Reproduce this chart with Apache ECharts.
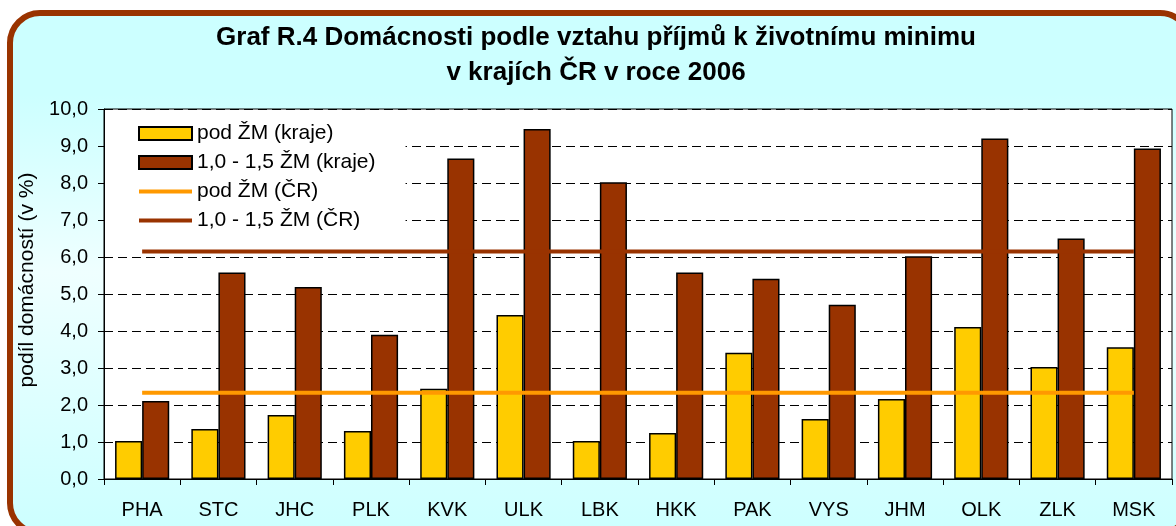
<!DOCTYPE html>
<html>
<head>
<meta charset="utf-8">
<script src="https://cdn.jsdelivr.net/npm/echarts@6/dist/echarts.min.js"></script>
<style>
  html, body { margin: 0; padding: 0; background: #fff; }
  #chart { width: 1176px; height: 526px; }
</style>
</head>
<body>
<div id="chart"></div>
<script>
// kraje
const categories = ['PHA', 'STC', 'JHC', 'PLK', 'KVK', 'ULK', 'LBK', 'HKK', 'PAK', 'VYS', 'JHM', 'OLK', 'ZLK', 'MSK']
// pod ZM (kraje)
const podZmKraje = [1.03, 1.35, 1.73, 1.30, 2.44, 4.43, 1.03, 1.24, 3.41, 1.62, 2.16, 4.11, 3.03, 3.56]
// 1,0 - 1,5 ZM (kraje)
const zm15Kraje = [2.11, 5.58, 5.19, 3.90, 8.66, 9.46, 8.02, 5.58, 5.41, 4.71, 6.02, 9.20, 6.50, 8.93]
// celostatni hodnoty
const podZmCR = 2.33
const zm15CR = 6.15
const seriesNames = ['pod ŽM (kraje)', '1,0 - 1,5 ŽM (kraje)', 'pod ŽM (ČR)', '1,0 - 1,5 ŽM (ČR)']

const font = "'Liberation Sans', Arial, sans-serif"
const chart = echarts.init(document.getElementById('chart'))

let option = {
  animation: false,
  backgroundColor: '#fff',
  textStyle: { fontFamily: font },
  graphic: [
    {
      type: 'rect',
      z: -10,
      silent: true,
      shape: { x: 10, y: 13, width: 1180, height: 520, r: 30 },
      style: {
        fill: new echarts.graphic.LinearGradient(0, 0, 0, 1, [
          { offset: 0, color: '#ccffff' },
          { offset: 0.16, color: '#ccffff' },
          { offset: 0.5, color: '#efffff' },
          { offset: 0.85, color: '#d6ffff' },
          { offset: 1, color: '#ccffff' }
        ]),
        stroke: '#993300',
        lineWidth: 6
      }
    }
  ],
  title: {
    text: 'Graf R.4 Domácnosti podle vztahu příjmů k životnímu minimu\nv krajích ČR v roce 2006',
    left: 591,
    top: 15,
    textAlign: 'center',
    textStyle: {
      fontFamily: font,
      fontSize: 26,
      fontWeight: 'bold',
      color: '#000',
      lineHeight: 35
    }
  },
  legend: {
    orient: 'vertical',
    left: 105,
    top: 110,
    padding: [13, 30, 12, 32],
    backgroundColor: '#fff',
    itemWidth: 53,
    itemHeight: 13,
    itemGap: 8,
    textStyle: { fontFamily: font, fontSize: 21, color: '#000' },
    data: [
      { name: seriesNames[0], icon: 'rect' },
      { name: seriesNames[1], icon: 'rect' },
      { name: seriesNames[2], itemStyle: { opacity: 0 }, lineStyle: { width: 4 } },
      { name: seriesNames[3], itemStyle: { opacity: 0 }, lineStyle: { width: 4 } }
    ]
  },
  grid: {
    left: 104,
    right: 4,
    top: 109,
    bottom: 47,
    show: true,
    backgroundColor: '#fff',
    borderColor: '#000',
    borderWidth: 1
  },
  xAxis: {
    type: 'category',
    data: categories,
    axisLine: { lineStyle: { color: '#000', width: 1 } },
    axisTick: { show: true, length: 6, lineStyle: { color: '#000' } },
    axisLabel: { color: '#000', fontSize: 20, margin: 21, fontFamily: font }
  },
  yAxis: {
    type: 'value',
    min: 0,
    max: 10,
    interval: 1,
    name: 'podíl domácností (v %)',
    nameLocation: 'middle',
    nameGap: 60,
    nameTextStyle: { color: '#000', fontSize: 21, fontFamily: font, padding: [0, 0, 0, 28] },
    axisLine: { show: true, lineStyle: { color: '#000', width: 1 } },
    axisTick: { show: true, length: 6, lineStyle: { color: '#000' } },
    axisLabel: {
      color: '#000',
      fontSize: 20,
      margin: 16,
      fontFamily: font,
      formatter: v => v.toFixed(1).replace('.', ',')
    },
    splitLine: { lineStyle: { color: '#000', type: [9, 5], width: 1 } }
  },
  series: [
    {
      name: seriesNames[0],
      type: 'bar',
      data: podZmKraje,
      barGap: '0%',
      barCategoryGap: '29%',
      itemStyle: { color: '#ffcc00', borderColor: '#000', borderWidth: 1.5 }
    },
    {
      name: seriesNames[1],
      type: 'bar',
      data: zm15Kraje,
      barGap: '0%',
      barCategoryGap: '29%',
      itemStyle: { color: '#993300', borderColor: '#000', borderWidth: 1.5 }
    },
    {
      name: seriesNames[2],
      type: 'line',
      data: categories.map(() => podZmCR),
      symbol: 'none',
      z: 5,
      lineStyle: { color: '#ff9900', width: 4 },
      itemStyle: { color: '#ff9900' }
    },
    {
      name: seriesNames[3],
      type: 'line',
      data: categories.map(() => zm15CR),
      symbol: 'none',
      z: 5,
      lineStyle: { color: '#993300', width: 4 },
      itemStyle: { color: '#993300' }
    }
  ]
}
chart.setOption(option)
</script>
</body>
</html>
